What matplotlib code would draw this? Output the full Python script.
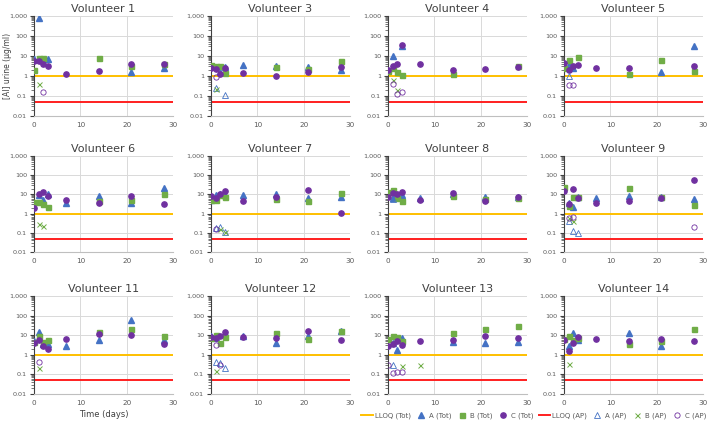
import numpy as np
import matplotlib
matplotlib.use("Agg")
import matplotlib.pyplot as plt
from matplotlib.ticker import FixedLocator, LogLocator, NullFormatter

nan = np.nan
days = [0, 1, 2, 3, 7, 14, 21, 28]
volunteers = ["Volunteer 1", "Volunteer 3", "Volunteer 4", "Volunteer 5",
              "Volunteer 6", "Volunteer 7", "Volunteer 8", "Volunteer 9",
              "Volunteer 11", "Volunteer 12", "Volunteer 13", "Volunteer 14"]
lloq_tot = 1.0
lloq_ap = 0.05

# values per volunteer, by day [0, 1, 2, 3, 7, 14, 21, 28]
A_tot = [
    [7, 800, nan, 7, nan, nan, 1.6, 2.4],
    [3, nan, 1.6, 2.8, 3.4, 3.2, 2.9, 1.9],
    [nan, 9.6, nan, 30, nan, nan, nan, nan],
    [nan, 3.7, 2.4, nan, nan, nan, 1.5, 30],
    [nan, 9.2, 4.9, 10, 3.6, 8.2, 3.4, 22],
    [5.3, 9.2, 11, 9.2, 9.2, 11, 6.2, 7.6],
    [nan, 6.2, 8.2, 8.9, 6.4, 10, 7.3, 7.3],
    [nan, 3.4, 2.2, 7.3, 6.2, 8.2, 7.6, 5.5],
    [5.3, 14.5, 3.6, 3.6, 2.8, 5.5, 57, 5.5],
    [8.6, 7.6, nan, 12.7, 8.6, 4.1, 8.6, 17],
    [nan, 4.1, 1.8, 7.4, nan, 4.3, 4.0, 4.5],
    [nan, 2.9, 12.5, 5.7, nan, 13.5, 2.9, nan],
]
B_tot = [
    [2.1, 7.9, 8, nan, nan, 7.6, 3.3, 4],
    [3.7, 3.2, 3.2, 1.4, nan, 2.8, 2.2, 5.8],
    [1.8, 2.5, 1.5, 1.17, nan, 1.3, nan, 3.2],
    [2.4, 6.5, nan, 9.2, nan, 1.3, 6.5, 1.85],
    [4.2, 4.2, 3.2, 2.2, nan, 4.7, 4.9, 10.4],
    [4.9, 4.9, 9.2, 7.3, nan, 5.7, 4.3, 12],
    [13, 16, 6.7, 4.7, nan, 8.5, 5.7, 6.2],
    [23, 2.4, 7.6, 7, nan, 22, 7.6, 2.7],
    [4.5, 9.2, 4.3, 5.7, nan, 14.5, 21.7, 9.5],
    [7.6, 10.6, 4.1, 8, nan, 12.7, 6.6, 15.6],
    [6.1, 8.6, 8.3, 5.0, nan, 13.5, 20, 31],
    [6.4, 9.2, 5.7, 7.5, nan, 3.4, 5.3, 20],
]
C_tot = [
    [5.8, 5.8, 4.1, 3.3, 1.26, 1.85, 4.1, 3.8],
    [2.6, 2.2, 1.2, 2.4, 1.36, 1.04, 1.6, 2.8],
    [1.9, 3.0, 4.0, 35, 4.1, 2.1, 2.2, 2.8],
    [4.3, 2.0, 3.2, 3.5, 2.4, 2.6, nan, 3.2],
    [2.0, 10.8, 13, 8.5, 5.1, 3.6, 8.2, 3.3],
    [8.5, 6.7, 10.4, 15, 4.7, 7.6, 17.5, 1.1],
    [7, 11.7, 10, 13, 5.1, 11.2, 4.7, 7],
    [15, 3.0, 18.8, 6.7, 3.4, 4.7, 6.2, 59],
    [4.2, 6, 2.7, 1.9, 6.4, 12, 9.9, 3.7],
    [8.3, 6.8, 8.6, 13.8, 8.3, 6.8, 17, 5.4],
    [2.7, 3.4, 4.8, 3.0, 5.2, 5.4, 8.6, 7.4],
    [6, 1.6, 4.2, 7.8, 6.4, 5.3, 6.4, 5.1],
]
A_ap = [
    [nan] * 8,
    [nan, 0.25, nan, 0.11, nan, nan, nan, nan],
    [nan] * 8,
    [nan, 1.0, nan, nan, nan, nan, nan, nan],
    [nan] * 8,
    [nan, 0.17, 0.19, 0.11, nan, nan, nan, nan],
    [nan, 5.7, nan, nan, nan, nan, nan, nan],
    [nan, 0.4, 0.13, 0.1, nan, nan, nan, nan],
    [nan] * 8,
    [nan, 0.42, 0.36, 0.2, nan, nan, nan, nan],
    [nan, 0.3, nan, nan, nan, nan, nan, nan],
    [nan] * 8,
]
B_ap = [
    [nan, 0.41, nan, nan, nan, nan, nan, nan],
    [nan, 0.23, nan, nan, nan, nan, nan, nan],
    [nan, 0.6, 0.2, nan, nan, nan, nan, nan],
    [nan] * 8,
    [nan, 0.29, 0.23, nan, nan, nan, nan, nan],
    [nan, nan, 0.15, 0.11, nan, nan, nan, nan],
    [nan] * 8,
    [nan, 0.57, 0.42, nan, nan, nan, nan, nan],
    [nan, 0.2, nan, nan, nan, nan, nan, nan],
    [nan, 0.15, nan, nan, nan, nan, nan, nan],
    [nan, nan, nan, 0.26, 0.3, nan, nan, nan],
    [nan, 0.32, nan, nan, nan, nan, nan, nan],
]
C_ap = [
    [nan, nan, 0.16, nan, nan, nan, nan, nan],
    [nan, 0.86, nan, nan, nan, nan, nan, nan],
    [nan, 0.4, 0.13, 0.15, nan, nan, nan, nan],
    [nan, 0.35, 0.35, nan, nan, nan, nan, nan],
    [nan] * 8,
    [nan, 0.155, nan, nan, nan, nan, nan, nan],
    [nan] * 8,
    [nan, 0.57, 0.7, nan, nan, nan, nan, 0.19],
    [nan, 0.42, nan, nan, nan, nan, nan, nan],
    [nan, 3.2, 0.31, nan, nan, nan, nan, nan],
    [0.31, 0.12, 0.13, 0.14, nan, nan, nan, nan],
    [nan] * 8,
]

yticks = [0.01, 0.1, 1, 10, 100, 1000]
ytick_labels = ["0.01", "0.1", "1", "10", "100", "1,000"]

BLUE = "#4472C4"
GREEN = "#70AD47"
PURPLE = "#7030A0"
GOLD = "#FFC000"
RED = "#FF1F1F"
TXT = "#595959"

W, H = 709, 422
fig = plt.figure(figsize=(W / 100, H / 100), dpi=100)
plt.rcParams['font.family'] = ['DejaVu Sans']

lefts = [34, 211, 388, 564]
width = 139
tops = [16, 156, 296]
heights = [100, 96, 98]

axes = []
for i, name in enumerate(volunteers):
    r, c = divmod(i, 4)
    l = lefts[c]
    t = tops[r]
    h = heights[r]
    ax = fig.add_axes([l / W, 1 - (t + h) / H, width / W, h / H])
    axes.append(ax)
    ax.set_yscale('log')
    ax.set_ylim(0.01, 1000)
    ax.set_xlim(0, 30)
    ax.grid(True, which='major', color='#D9D9D9', linewidth=0.7)
    ax.set_axisbelow(True)
    ax.yaxis.set_major_locator(FixedLocator(yticks))
    ax.set_yticklabels(ytick_labels)
    ax.yaxis.set_minor_locator(LogLocator(base=10, subs=np.arange(2, 10)))
    ax.yaxis.set_minor_formatter(NullFormatter())
    ax.set_xticks([0, 10, 20, 30])
    ax.tick_params(axis='y', which='major', length=3, width=0.8, color='#404040',
                   labelsize=4.6, labelcolor=TXT, pad=2)
    ax.tick_params(axis='y', which='minor', length=2, width=0.5, color='#404040')
    ax.tick_params(axis='x', length=0, labelsize=5.2, labelcolor=TXT, pad=4)
    for s in ['top', 'right']:
        ax.spines[s].set_visible(False)
    ax.spines['left'].set_color('#404040')
    ax.spines['bottom'].set_color('#BFBFBF')
    ax.set_title(name, fontsize=8, color='#404040', pad=3)

    ax.plot([0, 30], [lloq_tot, lloq_tot], color=GOLD, lw=1.4, label='LLOQ (Tot)', zorder=2)
    ax.plot(days, A_tot[i], ls='none', marker='^', ms=3.8, color=BLUE, label='A (Tot)', zorder=3)
    ax.plot(days, B_tot[i], ls='none', marker='s', ms=3.6, color=GREEN, label='B (Tot)', zorder=3)
    ax.plot(days, C_tot[i], ls='none', marker='o', ms=3.8, color=PURPLE, label='C (Tot)', zorder=3)
    ax.plot([0, 30], [lloq_ap, lloq_ap], color=RED, lw=1.4, label='LLOQ (AP)', zorder=2)
    ax.plot(days, A_ap[i], ls='none', marker='^', ms=3.8, mfc='none', mec=BLUE, mew=0.6,
            label='A (AP)', zorder=3)
    ax.plot(days, B_ap[i], ls='none', marker='x', ms=3.6, color=GREEN, mew=0.7,
            label='B (AP)', zorder=3)
    ax.plot(days, C_ap[i], ls='none', marker='o', ms=3.8, mfc='none', mec=PURPLE, mew=0.6,
            label='C (AP)', zorder=3)

axes[0].set_ylabel('[Al] urine (µg/ml)', fontsize=5.5, color='#404040')
axes[0].yaxis.set_label_coords(-0.155, 0.5)
axes[8].set_xlabel('Time (days)', fontsize=6, color='#404040', labelpad=3)

handles, labels = axes[0].get_legend_handles_labels()
fig.legend(handles, labels, loc='center right', bbox_to_anchor=(706 / W, 1 - 416 / H),
           ncol=8, fontsize=5, frameon=False, handlelength=1.6, handletextpad=0.3,
           columnspacing=0.75, borderpad=0, borderaxespad=0, labelcolor=TXT)

fig.savefig('out.png', dpi=100)
